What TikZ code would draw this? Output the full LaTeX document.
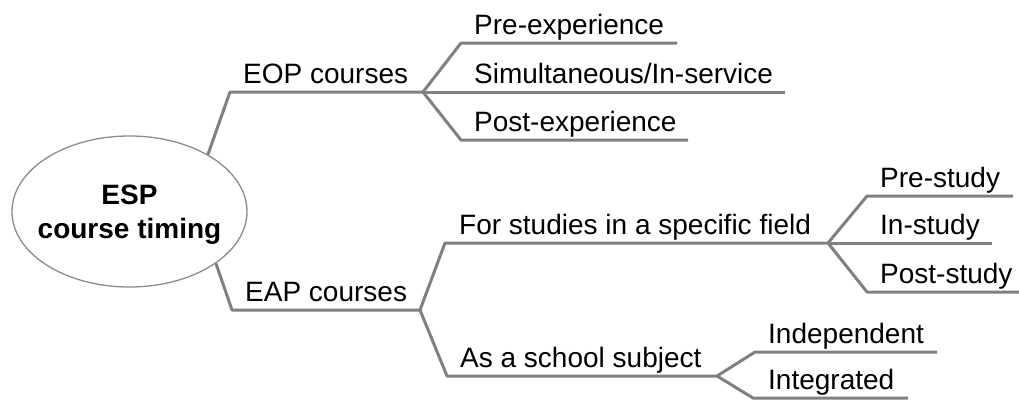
\documentclass[tikz,border=0pt]{standalone}
\usepackage{fontspec}
\setmainfont{Liberation Sans}
\usetikzlibrary{shapes.geometric}
\definecolor{branch}{HTML}{808080}
\definecolor{rim}{HTML}{8C8C8C}
\tikzset{
  branchline/.style={draw=branch, line width=3pt, line join=round},
  lbl/.style={anchor=base west, inner sep=0pt, text=black, font=\fontsize{28pt}{34pt}\selectfont},
  rootnode/.style={ellipse, draw=rim, line width=1.3pt, minimum width=235pt, minimum height=151pt,
    inner sep=0pt, align=center, font=\fontsize{28pt}{34pt}\selectfont\bfseries}
}
\begin{document}
\begin{tikzpicture}[x=1pt, y=-1pt]
\useasboundingbox (0,0) rectangle (1019,399);
\fill[white] (0,0) rectangle (1019,399);

\node[rootnode] (root) at (129.5,211.5) {\rule{0pt}{25pt}\makebox[0pt]{ESP}\\\makebox[0pt]{course timing}};

% corner and end coordinates
\coordinate (eopc) at (230,92);
\coordinate (eopf) at (423,92);
\coordinate (prec) at (461,43);
\coordinate (pree) at (677,43);
\coordinate (sime) at (785,92);
\coordinate (postc) at (461,140);
\coordinate (poste) at (688,140);

\coordinate (eapc) at (232,310);
\coordinate (eapf) at (420,310);
\coordinate (fsc) at (445,243);
\coordinate (fsf) at (828,243);
\coordinate (psc) at (867,196);
\coordinate (pse) at (1013,196);
\coordinate (ise) at (992,243);
\coordinate (pstc) at (867,292);
\coordinate (pste) at (1019,292);
\coordinate (asc) at (447,376);
\coordinate (asf) at (717,376);
\coordinate (indc) at (755,352);
\coordinate (inde) at (937,352);
\coordinate (intc) at (753,398);
\coordinate (inte) at (908,398);

% connectors
\draw[branchline] (root.36) -- (eopc) -- (eopf);
\draw[branchline] (eopf) -- (prec) -- (pree);
\draw[branchline] (eopf) -- (sime);
\draw[branchline] (eopf) -- (postc) -- (poste);

\draw[branchline] (root.-31) -- (eapc) -- (eapf);
\draw[branchline] (eapf) -- (fsc) -- (fsf);
\draw[branchline] (fsf) -- (psc) -- (pse);
\draw[branchline] (fsf) -- (ise);
\draw[branchline] (fsf) -- (pstc) -- (pste);
\draw[branchline] (eapf) -- (asc) -- (asf);
\draw[branchline] (asf) -- (indc) -- (inde);
\draw[branchline] (asf) -- (intc) -- (inte);

% labels
\node[lbl] (eop) at ([shift={(13,-9)}]eopc) {EOP courses};
\node[lbl] (pre) at ([shift={(13,-9)}]prec) {Pre-experience};
\node[lbl] (sim) at ([shift={(13,-9)}]prec |- eopf) {Simultaneous/In-service};
\node[lbl] (post) at ([shift={(13,-9)}]postc) {Post-experience};

\node[lbl] (eap) at ([shift={(13,-9)}]eapc) {EAP courses};
\node[lbl] (fs) at ([shift={(14,-9)}]fsc) {For studies in a specific field};
\node[lbl] (ps) at ([shift={(13,-9)}]psc) {Pre-study};
\node[lbl] (is) at ([shift={(13,-9)}]psc |- fsf) {In-study};
\node[lbl] (pst) at ([shift={(13,-9)}]pstc) {Post-study};
\node[lbl] (as) at ([shift={(13,-9)}]asc) {As a school subject};
\node[lbl] (ind) at ([shift={(13,-9)}]indc) {Independent};
\node[lbl] (int) at ([shift={(15,-9)}]intc) {Integrated};
\end{tikzpicture}
\end{document}
